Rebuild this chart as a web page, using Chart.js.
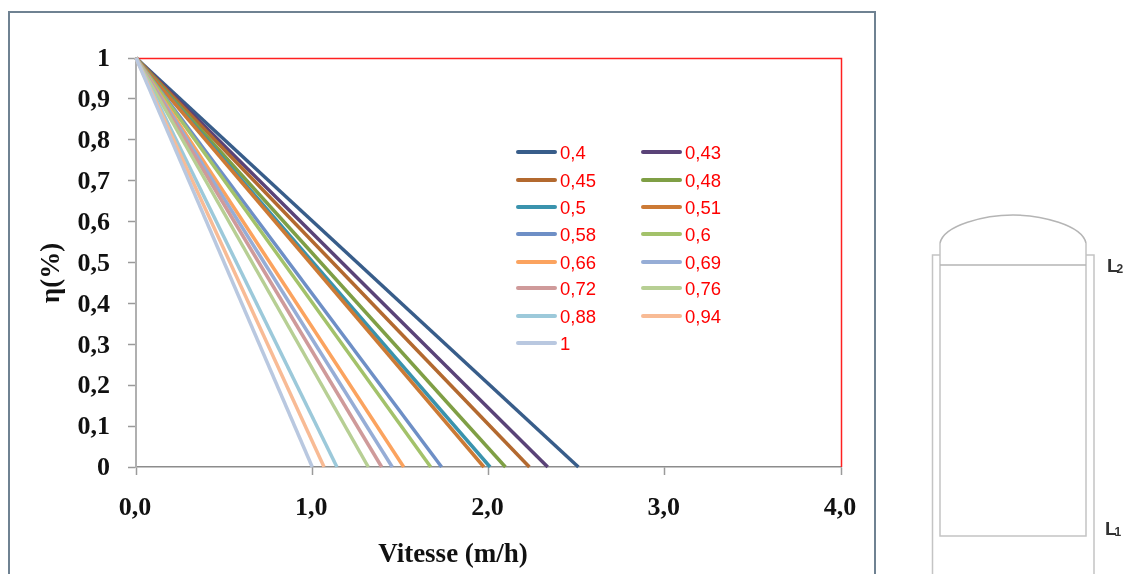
<!DOCTYPE html>
<html><head><meta charset="utf-8">
<script src="https://cdn.jsdelivr.net/npm/chart.js@4"></script>
<style>
html,body{margin:0;padding:0;background:#fff;width:1125px;height:574px;overflow:hidden}
#c{position:absolute;left:0;top:0}
#frame{position:absolute;left:8px;top:11px;width:864px;height:570px;border:2px solid #6f8292;box-sizing:content-box}
.li{position:absolute;height:20px;font:18.5px "Liberation Sans",sans-serif;color:#ff0000;line-height:20px}
.li i{position:absolute;left:0;top:8px;width:41px;height:4px;border-radius:2px}
.li span{position:absolute;left:44px;top:1px}
svg{position:absolute;left:0;top:0}
</style></head><body>
<div id="frame"></div>
<canvas id="c" width="1125" height="574"></canvas>
<svg width="1125" height="574" fill="none" stroke="#c4c4c4" stroke-width="1.5">
<path d="M932.5 574V255H940M1086 255H1094V574"/>
<path d="M940 243V536H1086V243"/>
<path d="M940 265H1086" stroke="#b5b5b5"/>
<path d="M940 243C944 225 985 215 1013 215C1041 215 1082 225 1086 243" stroke="#b5b5b5"/>
<text x="1107" y="272" font-family="Liberation Sans" font-weight="bold" font-size="19" fill="#333" stroke="none">L<tspan font-size="12" dx="-2" dy="1">2</tspan></text>
<text x="1105" y="535" font-family="Liberation Sans" font-weight="bold" font-size="19" fill="#333" stroke="none">L<tspan font-size="12" dx="-2" dy="1">1</tspan></text>
</svg>
<div id="leg"></div>
<script>
const seriesNames = ['0,4','0,43','0,45','0,48','0,5','0,51','0,58','0,6','0,66','0,69','0,72','0,76','0,88','0,94','1'];
const startSpeed = [0,0,0,0,0,0,0,0,0,0,0,0,0,0,0];
const endSpeed = [2.51,2.336,2.232,2.096,2.009,1.974,1.734,1.672,1.519,1.454,1.394,1.318,1.14,1.067,1.0];
const startEta = 1;
const endEta = 0;
const seriesColors = ['#385d8a','#5a4378','#b3692f','#7f9f45','#3a93ad','#cc7a35','#6e8fc6','#a3c26a','#fba35f','#96add6','#cf9a9a','#b7cf94','#9cc9da','#f8bb95','#b9c8e0'];
const xTicks = [0,1,2,3,4];
const yTicks = [0,0.1,0.2,0.3,0.4,0.5,0.6,0.7,0.8,0.9,1];
const xTitle = 'Vitesse (m/h)';
const yTitle = 'η(%)';
const fmt = v => Number.isInteger(v) ? String(v) : String(v).replace('.',',');
const redBorder = {id:'redBorder',beforeDatasetsDraw(ch){const a=ch.chartArea,c=ch.ctx;c.save();c.strokeStyle='#ff2020';c.lineWidth=1.5;c.beginPath();c.moveTo(a.left,a.top+.5);c.lineTo(a.right+.5,a.top+.5);c.lineTo(a.right+.5,a.bottom);c.stroke();c.restore();}};
const axisTitles = {id:'axisTitles',afterDraw(ch){const a=ch.chartArea,c=ch.ctx;c.save();c.fillStyle='#111';c.font='bold 27px "Liberation Serif",serif';c.textAlign='center';c.textBaseline='middle';
 c.fillText(xTitle,a.left+317,a.bottom+88);
 c.translate(a.left-84,a.top+215);c.rotate(-Math.PI/2);c.fillText(yTitle,0,0);c.restore();}};
const tickFont = {family:'"Liberation Serif",serif',size:26,weight:'bold'};
new Chart(document.getElementById('c'),{
 type:'scatter',
 data:{datasets:seriesNames.map((n,i)=>({label:n,data:[{x:startSpeed[i],y:startEta},{x:endSpeed[i],y:endEta}],showLine:true,borderColor:seriesColors[i],backgroundColor:seriesColors[i],borderWidth:3.5,pointRadius:0,clip:false,order:-i}))},
 options:{responsive:false,animation:false,
  layout:{padding:{left:0,top:58,right:284,bottom:0}},
  plugins:{legend:{display:false},tooltip:{enabled:false}},
  scales:{
   x:{type:'linear',min:0,max:4,afterFit(s){s.height=107;},afterBuildTicks(s){s.ticks=xTicks.map(v=>({value:v}));},
      border:{color:'#8c8c8c',width:1.5},grid:{drawOnChartArea:false,drawTicks:true,tickLength:8,color:'#9a9a9a',tickWidth:1.5},
      ticks:{color:'#111',font:tickFont,padding:18,maxRotation:0,labelOffset:-1,callback:v=>v.toFixed(1).replace('.',',')}},
   y:{type:'linear',min:0,max:1,afterFit(s){s.width=136;},afterBuildTicks(s){s.ticks=yTicks.map(v=>({value:v}));},
      border:{color:'#b0b0b0',width:2},grid:{drawOnChartArea:false,drawTicks:true,tickLength:8,color:'#9a9a9a',tickWidth:1.5},
      ticks:{color:'#111',font:tickFont,padding:18,labelOffset:1.5,callback:v=>fmt(v)}}
  }},
 plugins:[redBorder,axisTitles]
});
const rowsY=[142,170,197,224,251.5,278,306,333];
const leg=document.getElementById('leg');
seriesNames.forEach((n,i)=>{const d=document.createElement('div');d.className='li';d.style.left=(i%2?641:516)+'px';d.style.top=rowsY[i>>1]+'px';d.innerHTML='<i style="background:'+seriesColors[i]+'"></i><span>'+n+'</span>';leg.appendChild(d);});
</script>
</body></html>
